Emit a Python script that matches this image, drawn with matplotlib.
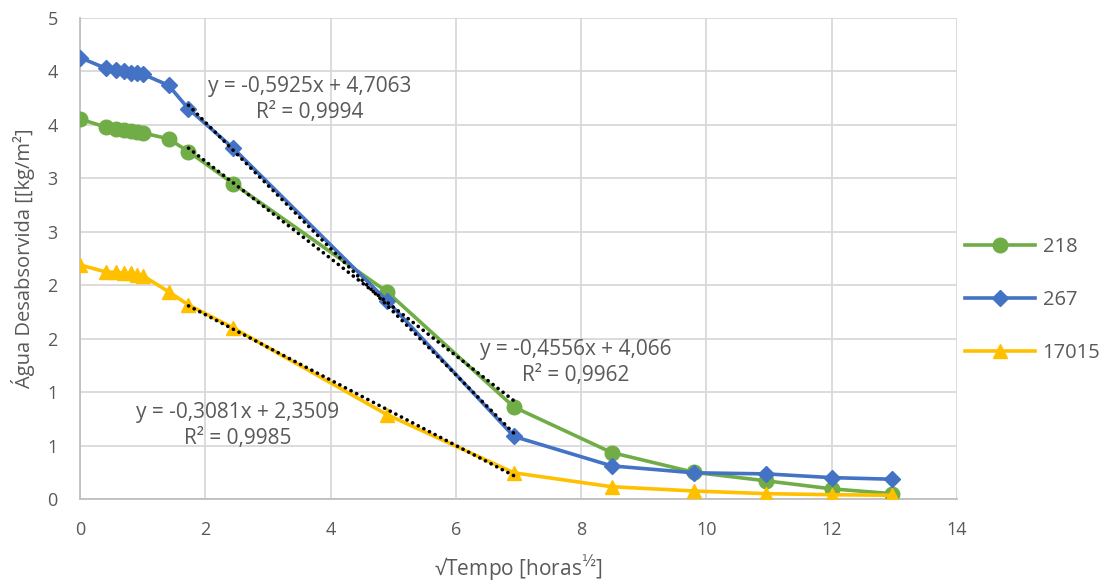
import numpy as np
import matplotlib
matplotlib.use("Agg")
import matplotlib.pyplot as plt

# sqrt(time) in hours^0.5
x = [0, 0.408, 0.577, 0.707, 0.816, 0.913, 1.0, 1.414, 1.732, 2.449,
     4.899, 6.928, 8.485, 9.798, 10.954, 12.0, 12.961]

y_218 = [3.555, 3.48, 3.465, 3.45, 3.44, 3.43, 3.425, 3.37, 3.25, 2.95,
         1.94, 0.86, 0.435, 0.25, 0.17, 0.095, 0.05]
y_267 = [4.13, 4.03, 4.015, 4.0, 3.99, 3.985, 3.975, 3.87, 3.65, 3.28,
         1.855, 0.585, 0.31, 0.245, 0.235, 0.2, 0.185]
y_17015 = [2.19, 2.125, 2.12, 2.115, 2.11, 2.10, 2.09, 1.94, 1.815, 1.60,
           0.79, 0.245, 0.115, 0.075, 0.05, 0.04, 0.035]

series = ["218", "267", "17015"]
# trend fitted over points 1.73 .. 6.93
fit_lo, fit_hi = 8, 12
eq_text = ["y = -0,4556x + 4,066\nR² = 0,9962",
           "y = -0,5925x + 4,7063\nR² = 0,9994",
           "y = -0,3081x + 2,3509\nR² = 0,9985"]
eq_pos = [(7.92, 1.28), (3.66, 3.74), (2.52, 0.69)]

yticks = [0, 0.5, 1, 1.5, 2, 2.5, 3, 3.5, 4, 4.5]
ytick_labels = ["0", "1", "1", "2", "2", "3", "3", "4", "4", "5"]
xticks = [0, 2, 4, 6, 8, 10, 12, 14]

colors = ["#70AD47", "#4472C4", "#FFC000"]
markers = ["o", "D", "^"]
msizes = [10.5, 8, 10.5]
txt = "#595959"

plt.rcParams["font.family"] = ["Open Sans", "DejaVu Sans"]

fig = plt.figure(figsize=(11.07, 5.83), dpi=100)
ax = fig.add_axes([80/1107, 84/583, 877/1107, 481/583])

data = [y_218, y_267, y_17015]
handles = []
for ys, c, m, ms, name in zip(data, colors, markers, msizes, series):
    h, = ax.plot(x, ys, color=c, lw=2.6, marker=m, ms=ms, mfc=c, mec=c,
                 label=name, zorder=3)
    handles.append(h)

# trendlines
for ys in data:
    xs = np.array(x[fit_lo:fit_hi])
    p = np.polyfit(xs, np.array(ys[fit_lo:fit_hi]), 1)
    xx = np.array([xs[0], xs[-1]])
    ax.plot(xx, np.polyval(p, xx), color="black", lw=2.6,
            linestyle=(0, (0.05, 1.7)), dash_capstyle="round", zorder=4)

for t, (tx, ty) in zip(eq_text, eq_pos):
    ax.text(tx, ty, t, ha="center", va="center", fontsize=15, color=txt,
            linespacing=1.3, zorder=5)

ax.set_xlim(0, 14)
ax.set_ylim(0, 4.5)
ax.set_xticks(xticks)
ax.set_yticks(yticks)
ax.set_yticklabels(ytick_labels)
ax.tick_params(length=0, labelsize=13, colors=txt, pad=16)
ax.grid(True, color="#D9D9D9", lw=1.3)
ax.set_axisbelow(True)
for s in ["top", "right"]:
    ax.spines[s].set_visible(False)
for s in ["left", "bottom"]:
    ax.spines[s].set_color("#BFBFBF")
    ax.spines[s].set_linewidth(1.3)

ax.set_xlabel("√Tempo [horas$^{½}$]", fontsize=15, color=txt, labelpad=10)
ax.set_ylabel("Água Desabsorvida [[kg/m²]", fontsize=14.5, color=txt, labelpad=9)

fig.legend(handles=handles, loc="center left", bbox_to_anchor=(965/1107, 0.485),
           frameon=False, fontsize=14.5, labelcolor=txt, handlelength=3.5,
           labelspacing=1.65, handletextpad=0.35, borderpad=0, borderaxespad=0)

fig.savefig("out.png", dpi=100)
